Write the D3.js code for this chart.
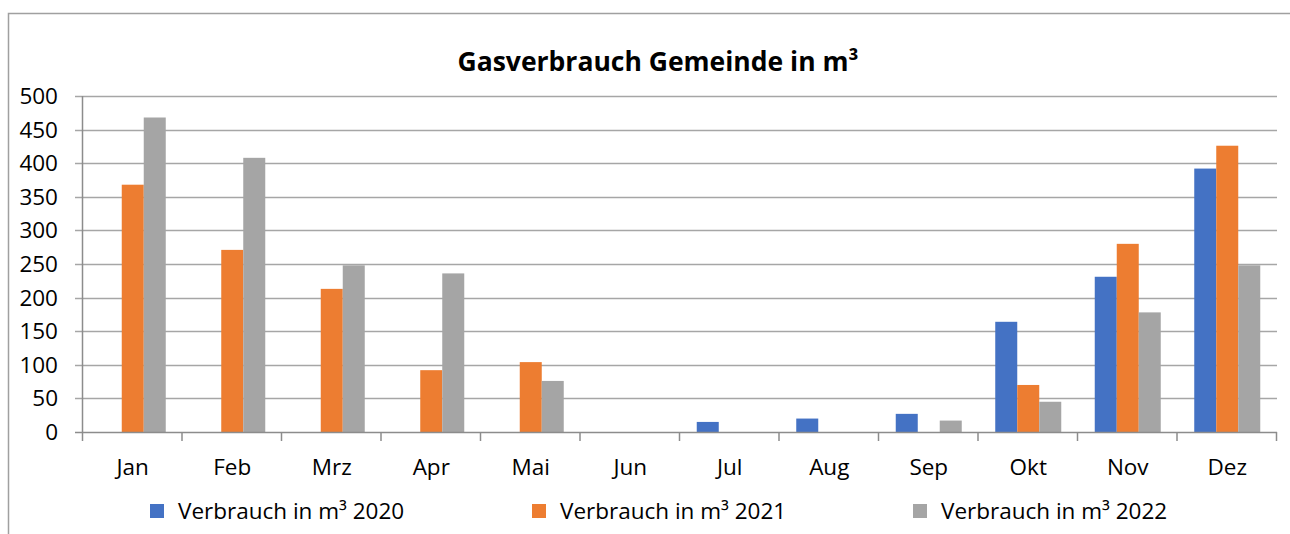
<!DOCTYPE html>
<html>
<head>
<meta charset="utf-8">
<script src="https://cdn.jsdelivr.net/npm/d3@7"></script>
<style>
  body { margin: 0; background: #fff; }
  svg { display: block; font-family: "Open Sans", Lato, sans-serif; }
</style>
</head>
<body>
<div id="chart"></div>
<script>
var months = ["Jan", "Feb", "Mrz", "Apr", "Mai", "Jun", "Jul", "Aug", "Sep", "Okt", "Nov", "Dez"];
var seriesNames = ["Verbrauch in m³ 2020", "Verbrauch in m³ 2021", "Verbrauch in m³ 2022"];
var v2020 = [0, 0, 0, 0, 0, 0, 15, 20, 27, 164, 231, 392];
var v2021 = [368, 271, 213, 92, 104, 0, 0, 0, 0, 70, 280, 426];
var v2022 = [468, 408, 248, 236, 76, 0, 0, 0, 17, 45, 178, 248];
var yTicks = [0, 50, 100, 150, 200, 250, 300, 350, 400, 450, 500];
var colors = ["#4472c4", "#ed7d31", "#a5a5a5"];

var width = 1290, height = 534;
var plotLeft = 83, plotRight = 1277, plotTop = 96, plotBottom = 432;

var svg = d3.select("#chart").append("svg")
    .attr("width", width)
    .attr("height", height);

// chart frame
svg.append("path")
    .attr("d", "M8.5,534 V13.5 H1290")
    .attr("fill", "none")
    .attr("stroke", "#a0a0a0")
    .attr("stroke-width", 1.5);

svg.append("text")
    .attr("x", 658)
    .attr("y", 71)
    .attr("text-anchor", "middle")
    .attr("font-size", 26.5)
    .attr("font-weight", "bold")
    .attr("fill", "#000")
    .text("Gasverbrauch Gemeinde in m³");

var x = d3.scaleBand().domain(months).range([plotLeft, plotRight]);
var xInner = d3.scaleBand().domain([0, 1, 2]).range([0, 66]);
var y = d3.scaleLinear().domain([0, 500]).range([plotBottom, plotTop]);

// gridlines
svg.append("g").selectAll("line")
    .data(yTicks.slice(1))
    .enter().append("line")
    .attr("x1", plotLeft - 8)
    .attr("x2", plotRight)
    .attr("y1", function(d) { return Math.round(y(d)) + 0.5; })
    .attr("y2", function(d) { return Math.round(y(d)) + 0.5; })
    .attr("stroke", "#a6a6a6")
    .attr("stroke-width", 1.3);

// y labels
svg.append("g").selectAll("text")
    .data(yTicks)
    .enter().append("text")
    .attr("x", 58)
    .attr("y", function(d) { return y(d) + 8; })
    .attr("text-anchor", "end")
    .attr("font-size", 22.5)
    .attr("fill", "#000")
    .text(function(d) { return d; });

// bars
var series = [v2020, v2021, v2022];
series.forEach(function(vals, s) {
    svg.append("g").selectAll("rect")
        .data(vals)
        .enter().append("rect")
        .attr("x", function(d, i) { return x(months[i]) + (x.bandwidth() - 66) / 2 + xInner(s); })
        .attr("y", function(d) { return y(d); })
        .attr("width", xInner.bandwidth())
        .attr("height", function(d) { return plotBottom - y(d); })
        .attr("fill", colors[s]);
});

// y axis line
svg.append("line")
    .attr("x1", plotLeft - 0.5).attr("x2", plotLeft - 0.5)
    .attr("y1", plotTop).attr("y2", plotBottom)
    .attr("stroke", "#8c8c8c")
    .attr("stroke-width", 1.5);

// x axis with ticks at category boundaries
var xAxis = svg.append("g");
xAxis.append("line")
    .attr("x1", plotLeft - 8).attr("x2", plotRight)
    .attr("y1", plotBottom + 0.5).attr("y2", plotBottom + 0.5)
    .attr("stroke", "#8c8c8c")
    .attr("stroke-width", 1.5);
xAxis.selectAll(".tk")
    .data(months.concat(["end"]))
    .enter().append("line")
    .attr("class", "tk")
    .attr("x1", function(d, i) { return plotLeft + i * x.bandwidth() - 0.5; })
    .attr("x2", function(d, i) { return plotLeft + i * x.bandwidth() - 0.5; })
    .attr("y1", plotBottom)
    .attr("y2", plotBottom + 9)
    .attr("stroke", "#8c8c8c")
    .attr("stroke-width", 1.5);
xAxis.selectAll("text")
    .data(months)
    .enter().append("text")
    .attr("x", function(d) { return x(d) + x.bandwidth() / 2; })
    .attr("y", 475)
    .attr("text-anchor", "middle")
    .attr("font-size", 22.5)
    .attr("fill", "#000")
    .text(function(d) { return d; });

// legend
var legendX = [150, 532, 913];
var legend = svg.append("g").selectAll("g")
    .data(seriesNames)
    .enter().append("g")
    .attr("transform", function(d, i) { return "translate(" + legendX[i] + ",0)"; });
legend.append("rect")
    .attr("x", 0).attr("y", 504)
    .attr("width", 14).attr("height", 14)
    .attr("fill", function(d, i) { return colors[i]; });
legend.append("text")
    .attr("x", 28)
    .attr("y", 519)
    .attr("font-size", 22.5)
    .attr("fill", "#000")
    .text(function(d) { return d; });
</script>
</body>
</html>
